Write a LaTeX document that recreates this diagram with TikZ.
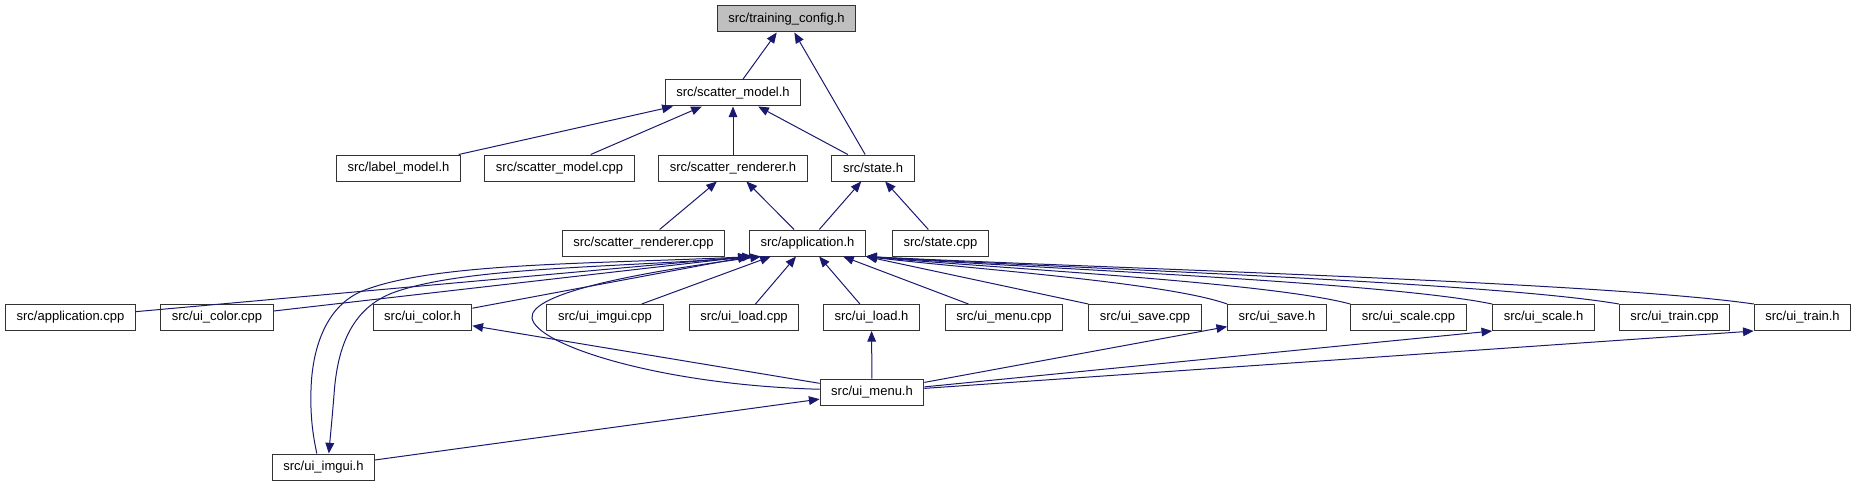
\documentclass[tikz,border=0pt]{standalone}
\usepackage{fontspec}
\setmainfont{Liberation Sans}
\usetikzlibrary{arrows.meta}
\definecolor{edgeblue}{RGB}{25,25,112}
\definecolor{rootgray}{RGB}{191,191,191}

\begin{document}
\begin{tikzpicture}[
    x=0.75pt, y=-0.75pt,
    file/.style={draw=black!80, fill=white, rectangle, line width=0.75pt,
                 font=\fontsize{9.75}{11}\selectfont,
                 inner xsep=8.3pt, inner ysep=0pt, minimum height=19.5pt},
    root/.style={file, fill=rootgray},
    dep/.style={{Triangle[length=8pt, width=6.5pt]}-, draw=edgeblue, line width=0.75pt}
]
\useasboundingbox (0,0) rectangle (1857,485);

\node[root] (tconfig) at (786.5,19) {src/training\_config.h};
\node[file] (smodel) at (733,93) {src/scatter\_model.h};

\node[file] (lmodel) at (398.5,168) {src/label\_model.h};
\node[file] (smodelcpp) at (559.5,168) {src/scatter\_model.cpp};
\node[file] (srend) at (733,168) {src/scatter\_renderer.h};
\node[file] (state) at (873,168) {src/state.h};

\node[file] (srendcpp) at (643.5,243) {src/scatter\_renderer.cpp};
\node[file] (app) at (807.5,243) {src/application.h};
\node[file] (statecpp) at (940.5,243) {src/state.cpp};

\node[file] (appcpp) at (70.5,317.5) {src/application.cpp};
\node[file] (colorcpp) at (217,317.5) {src/ui\_color.cpp};
\node[file] (colorh) at (422.5,317.5) {src/ui\_color.h};
\node[file] (imguicpp) at (605,317.5) {src/ui\_imgui.cpp};
\node[file] (loadcpp) at (744,317.5) {src/ui\_load.cpp};
\node[file] (loadh) at (871.5,317.5) {src/ui\_load.h};
\node[file] (menucpp) at (1004,317.5) {src/ui\_menu.cpp};
\node[file] (savecpp) at (1145,317.5) {src/ui\_save.cpp};
\node[file] (saveh) at (1277,317.5) {src/ui\_save.h};
\node[file] (scalecpp) at (1408.5,317.5) {src/ui\_scale.cpp};
\node[file] (scaleh) at (1543.5,317.5) {src/ui\_scale.h};
\node[file] (traincpp) at (1674.5,317.5) {src/ui\_train.cpp};
\node[file] (trainh) at (1802.5,317.5) {src/ui\_train.h};

\node[file] (menuh) at (872,392) {src/ui\_menu.h};
\node[file] (imguih) at (323.5,467) {src/ui\_imgui.h};

% includes, arrow at the included file
\draw[dep] (tconfig) -- (smodel);
\draw[dep] (tconfig) -- (state);
\draw[dep] (smodel) -- (lmodel);
\draw[dep] (smodel) -- (smodelcpp);
\draw[dep] (smodel) -- (srend);
\draw[dep] (smodel) -- (state);
\draw[dep] (srend) -- (srendcpp);
\draw[dep] (srend) -- (app);
\draw[dep] (state) -- (app);
\draw[dep] (state) -- (statecpp);

\foreach \f in {appcpp, colorcpp, colorh}
    \draw[dep] (app.south west) -- (\f);
\foreach \f in {imguicpp, loadcpp, loadh, menucpp}
    \draw[dep] (app) -- (\f);
\draw[dep] (app.south east) -- (savecpp.north west);
\foreach \f/\x in {saveh/1227, scalecpp/1350, scaleh/1492, traincpp/1619, trainh/1754}
    \draw[dep] (app.south east) .. controls ({866+0.26*(\x-866)},268) and ({\x-0.17*(\x-866)},282) .. (\f.north west);

\foreach \f in {colorh, loadh, saveh}
    \draw[dep] (\f) -- (menuh);
\draw[dep] (scaleh.south west) -- (menuh);
\draw[dep] (trainh.south west) -- (menuh);
\draw[dep] (menuh) -- (imguih);

% cycles through ui_imgui.h and ui_menu.h
\draw[dep] ([xshift=4pt]imguih.north) .. controls (330,440) and (332,420) .. (334,395)
    .. controls (337,350) and (350,308) .. (395,292)
    .. controls (470,266) and (620,268) .. ([xshift=6pt]app.south west);
\draw[dep] ([xshift=3pt]app.south west) .. controls (600,264) and (430,262) .. (360,292)
    .. controls (325,308) and (312,350) .. (311,390)
    .. controls (310,420) and (314,440) .. ([xshift=-5pt]imguih.north);
\draw[dep] ([xshift=9pt]app.south west) .. controls (640,272) and (529,293) .. (532,318)
    .. controls (536,345) and (660,385) .. (menuh.177);
\end{tikzpicture}
\end{document}
